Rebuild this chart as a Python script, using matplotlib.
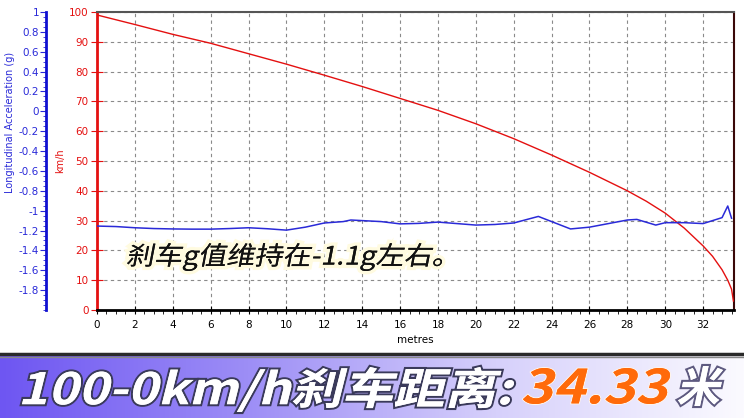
import numpy as np
import matplotlib
matplotlib.use("Agg")
import matplotlib.pyplot as plt
import matplotlib.patheffects as pe
from matplotlib.ticker import MultipleLocator, FixedLocator
from matplotlib.textpath import TextPath
from matplotlib.patches import PathPatch
from matplotlib.font_manager import FontProperties
from matplotlib.transforms import Affine2D, IdentityTransform
from matplotlib.colors import LinearSegmentedColormap

# speed (km/h) against distance (m)
dist_speed = [0, 2, 4, 6, 8, 10, 12, 14, 16, 18, 20, 22, 24, 26, 28, 29, 30,
              31, 32, 32.5, 33, 33.3, 33.5, 33.6]
speed_kmh = [99, 95.8, 92.5, 89.5, 86, 82.5, 78.8, 75, 71, 67, 62.5, 57.5, 52,
             46.2, 40, 36.5, 32.5, 27.5, 21.5, 18, 13.5, 10, 7, 3]

# longitudinal acceleration (g) against distance (m)
dist_acc = [0, 1, 2, 3, 4, 5, 6, 7, 8, 9, 10, 11, 12, 13, 13.4, 15, 16, 17, 18,
            19, 20, 21, 22, 23.3, 25, 26, 27, 28, 28.5, 29.5, 30, 31, 32, 33,
            33.3, 33.5]
acc_g = [-1.155, -1.16, -1.172, -1.18, -1.184, -1.186, -1.186, -1.18, -1.172,
         -1.182, -1.196, -1.166, -1.124, -1.11, -1.094, -1.11, -1.133, -1.128,
         -1.115, -1.13, -1.145, -1.139, -1.124, -1.058, -1.184, -1.166, -1.13,
         -1.094, -1.088, -1.145, -1.121, -1.121, -1.13, -1.07, -0.953, -1.076]

acc_ticks = [1, 0.8, 0.6, 0.4, 0.2, 0, -0.2, -0.4, -0.6, -0.8, -1, -1.2, -1.4,
             -1.6, -1.8]
acc_labels = ["1", "0.8", "0.6", "0.4", "0.2", "0", "-0.2", "-0.4", "-0.6",
              "-0.8", "-1", "-1.2", "-1.4", "-1.6", "-1.8"]

note_text = "刹车g值维持在-1.1g左右。"
banner_parts = ["100-0km/h刹车距离:", "34.33", "米"]

W, H = 744, 418
RED = "#e41010"
BLUE = "#2a2ad8"

fig = plt.figure(figsize=(W / 100, H / 100), dpi=100)
fig.patch.set_facecolor("white")

# main axes (speed)
ax = fig.add_axes([97 / W, (H - 310) / H, (734 - 97) / W, (310 - 12) / H])
ax.set_xlim(0, 33.63)
ax.set_ylim(0, 100)
ax.plot(dist_speed, speed_kmh, color=RED, lw=1.0, zorder=3)

ax.xaxis.set_major_locator(MultipleLocator(2))
ax.xaxis.set_minor_locator(MultipleLocator(0.5))
ax.yaxis.set_major_locator(MultipleLocator(10))
ax.grid(True, which="major", color="#8a8a8a", ls=(0, (3, 3)), lw=0.8)
ax.tick_params(axis="x", which="major", direction="inout", length=6,
               labelsize=7.5, pad=4, colors="black")
ax.tick_params(axis="x", which="minor", direction="out", length=3)
ax.tick_params(axis="y", which="major", direction="inout", length=8,
               labelsize=7.5, colors=RED, pad=2)
ax.set_xlabel("metres", fontsize=7.5, labelpad=4)
ax.set_ylabel("km/h", fontsize=7, color=RED)
ax.yaxis.set_label_coords(-0.05, 0.5)

ax.spines["left"].set_color(RED)
ax.spines["left"].set_linewidth(2)
ax.spines["bottom"].set_color("black")
ax.spines["bottom"].set_linewidth(2)
ax.spines["top"].set_color("#555555")
ax.spines["top"].set_linewidth(1.5)
ax.spines["right"].set_color("#3a0808")
ax.spines["right"].set_linewidth(1.5)
ax.spines["right"].set_linestyle((0, (3, 1)))

# acceleration axis on far left (spine at about x=46 px)
ax2 = ax.twinx()
ax2.set_ylim(-2, 1)
ax2.plot(dist_acc, acc_g, color=BLUE, lw=1.1, zorder=4)
ax2.yaxis.tick_left()
ax2.yaxis.set_label_position("left")
ax2.spines["left"].set_position(("outward", 51 * 0.72))
ax2.spines["left"].set_color("#1010d0")
ax2.spines["left"].set_linewidth(2)
for s in ["right", "top", "bottom"]:
    ax2.spines[s].set_visible(False)
ax2.yaxis.set_major_locator(FixedLocator(acc_ticks))
ax2.set_yticklabels(acc_labels)
ax2.yaxis.set_minor_locator(MultipleLocator(0.05))
ax2.tick_params(axis="y", which="major", direction="out", length=4,
                labelsize=7.5, colors=BLUE, pad=1)
ax2.tick_params(axis="y", which="minor", direction="out", length=2,
                colors=BLUE)
ax2.set_ylabel("Longitudinal Acceleration (g)", fontsize=7, color=BLUE)
ax2.yaxis.set_label_coords(-0.128, 0.63)


def slanted_text(s, box, face, stroke=None, glow=None, weight="normal",
                 skew=12, z=10):
    # text drawn as a path in pixel space, fitted into box (x0, x1, ytop, ybot)
    x0, x1, ytop, ybot = box
    fp = FontProperties(family="Noto Sans CJK SC", weight=weight)
    tp = TextPath((0, 0), s, size=50, prop=fp)
    tp = Affine2D().skew_deg(skew, 0).transform_path(tp)
    ext = tp.get_extents()
    sx = (x1 - x0) / ext.width
    sy = (ybot - ytop) / ext.height
    tr = (Affine2D().translate(-ext.x0, -ext.y0).scale(sx, sy)
          .translate(x0, H - ybot))
    path = tr.transform_path(tp)
    effects = []
    if glow is not None:
        effects.append(pe.withStroke(linewidth=glow[1], foreground=glow[0]))
    if stroke is not None:
        effects.append(pe.withStroke(linewidth=stroke[1], foreground=stroke[0]))
    effects.append(pe.Normal())
    patch = PathPatch(path, facecolor=face, edgecolor="none",
                      transform=IdentityTransform(), zorder=z)
    patch.set_path_effects(effects)
    fig.add_artist(patch)


# annotation inside the chart
slanted_text(note_text, (127, 442, 243, 271), "#111111",
             glow=("#fffbe0", 5), skew=10)

# banner at the bottom
bax = fig.add_axes([0, 0, 1, (H - 355) / H])
cmap = LinearSegmentedColormap.from_list(
    "band", ["#6e56f2", "#9d8ef6", "#d6d0fb", "#fbfaff"])
bax.imshow(np.linspace(0, 1, 256).reshape(1, -1), aspect="auto", cmap=cmap,
           extent=[0, 1, 0, 1])
bax.set_axis_off()
fig.add_artist(plt.Line2D([0, 1], [(H - 354) / H] * 2, color="#2a2a2a",
                          lw=2.5, transform=fig.transFigure))
fig.add_artist(plt.Line2D([0, 1], [(H - 356.5) / H] * 2, color="#888888",
                          lw=1.0, transform=fig.transFigure))

slanted_text(banner_parts[0], (22, 514, 367, 412), "white",
             stroke=("#3a3a5a", 3), weight="black", skew=12)
slanted_text(banner_parts[1], (523, 670, 368, 404), "#ff6a0a",
             stroke=("#fff4ea", 1.5), weight="black", skew=12)
slanted_text(banner_parts[2], (678, 723, 366, 406), "white",
             stroke=("#5e5a80", 3), weight="black", skew=12)

fig.savefig("out.png", dpi=100)
